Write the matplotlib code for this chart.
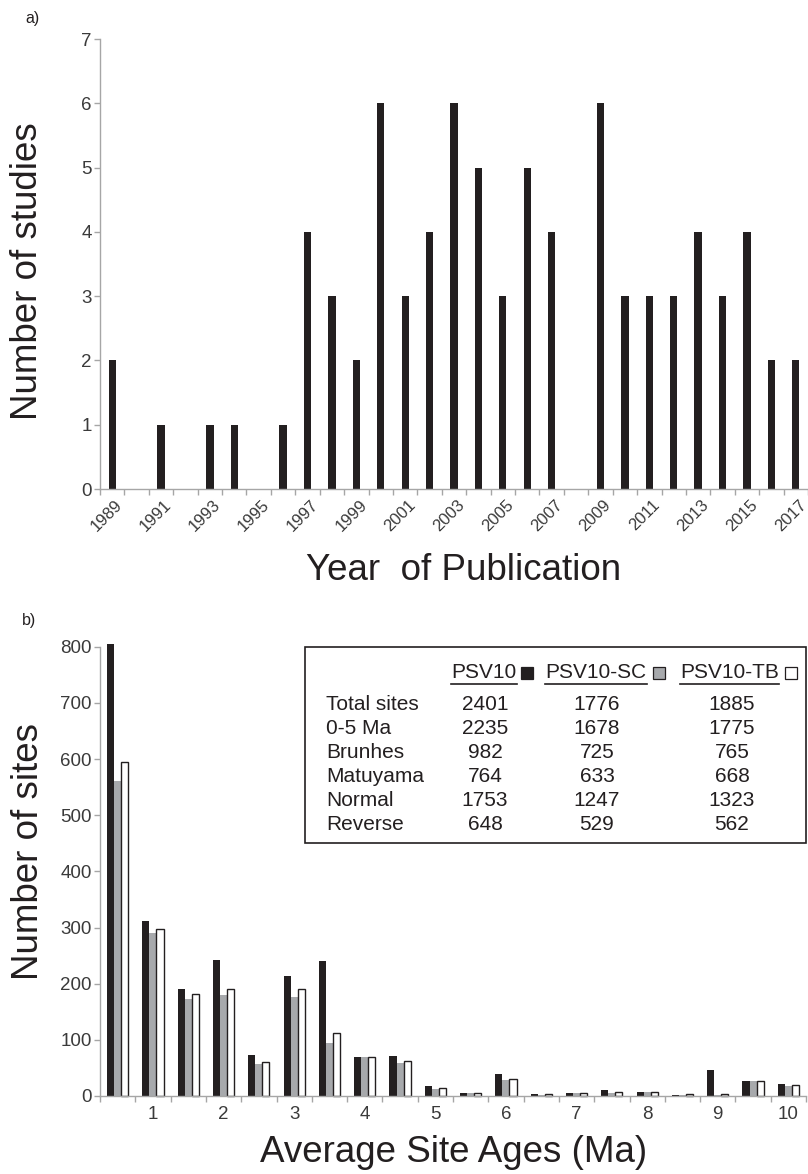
import matplotlib
matplotlib.use('Agg')
import matplotlib.pyplot as plt
import matplotlib.transforms as mtransforms
from matplotlib.patches import Rectangle
from matplotlib.lines import Line2D
import numpy as np

plt.rcParams['font.family'] = ['Liberation Sans', 'DejaVu Sans']

# Panel a: studies per year
years = list(range(1989, 2018))
studies = [2, 0, 1, 0, 1, 1, 0, 1, 4, 3, 2, 6, 3, 4, 6, 5, 3, 5, 4, 0,
           6, 3, 3, 3, 4, 3, 4, 2, 2]

# Panel b: sites per 0.5 Ma age bin
age_labels = ['1', '2', '3', '4', '5', '6', '7', '8', '9', '10']
psv10 = [805, 311, 190, 242, 73, 213, 240, 69, 72, 18,
         6, 40, 3, 6, 11, 7, 2, 46, 27, 21]
psv10_sc = [561, 291, 172, 179, 57, 176, 94, 70, 59, 13,
            5, 29, 2, 5, 6, 7, 1, 1, 27, 17]
psv10_tb = [595, 298, 182, 190, 60, 190, 112, 70, 62, 14,
            6, 31, 3, 6, 7, 8, 3, 4, 27, 20]

# Summary table
series_names = ['PSV10', 'PSV10-SC', 'PSV10-TB']
row_labels = ['Total sites', '0-5 Ma', 'Brunhes', 'Matuyama', 'Normal', 'Reverse']
tab_psv10 = [2401, 2235, 982, 764, 1753, 648]
tab_sc = [1776, 1678, 725, 633, 1247, 529]
tab_tb = [1885, 1775, 765, 668, 1323, 562]

INK = '#231f20'
GREY = '#a7a9ac'
AXC = '#a6a6a6'
TICKC = '#3a3a3a'

W, H = 808, 1174
fig = plt.figure(figsize=(W / 100, H / 100), dpi=100)


def fx(x):
    return x / W


def fy(y):
    return 1 - y / H


def style_axes(ax):
    for s in ('top', 'right'):
        ax.spines[s].set_visible(False)
    for s in ('left', 'bottom'):
        ax.spines[s].set_color(AXC)
        ax.spines[s].set_linewidth(1.0)
    ax.tick_params(axis='y', which='major', length=4, width=1.0, color=AXC,
                   labelcolor=TICKC, pad=2)
    ax.tick_params(axis='x', which='major', length=0, labelcolor=TICKC)
    ax.tick_params(axis='x', which='minor', length=4, width=1.0, color=AXC)


# ---- a) ----
axa = fig.add_axes([fx(100), fy(489), fx(708), (489 - 39) / H])
xa = np.arange(len(years))
axa.bar(xa, studies, width=0.3, color=INK, edgecolor='none')
axa.set_xlim(-0.5, len(years) - 0.5)
axa.set_ylim(0, 7)
axa.set_yticks(range(0, 8))
axa.set_xticks(xa[::2])
axa.set_xticklabels([str(y) for y in years[::2]], rotation=45, ha='center')
axa.set_xticks(np.arange(-0.5, len(years), 1), minor=True)
style_axes(axa)
axa.tick_params(axis='y', labelsize=13.5)
axa.tick_params(axis='x', which='major', labelsize=12, pad=6)
shift = mtransforms.ScaledTranslation(-5 / 100, 0, fig.dpi_scale_trans)
for lab in axa.get_xticklabels():
    lab.set_transform(lab.get_transform() + shift)

fig.text(fx(25), fy(19), 'a)', fontsize=11.5, color=INK, ha='left', va='center')
fig.text(fx(28), fy(271), 'Number of studies', fontsize=26.5, color=INK,
         rotation=90, ha='center', va='center')
fig.text(fx(464), fy(571), 'Year  of Publication', fontsize=26.5, color=INK,
         ha='center', va='center')

# ---- b) ----
axb = fig.add_axes([fx(100), fy(1096), fx(706), (1096 - 646.7) / H])
xb = np.arange(len(psv10))
bw = 0.2
axb.bar(xb - bw, psv10, width=bw, color=INK, edgecolor='none', clip_on=False)
axb.bar(xb, psv10_sc, width=bw, color=GREY, edgecolor='none', clip_on=False)
axb.bar(xb + bw, psv10_tb, width=bw, color='white', edgecolor=INK,
        linewidth=1.0, clip_on=False)
axb.set_xlim(-0.5, len(psv10) - 0.5)
axb.set_ylim(0, 800)
axb.set_yticks(range(0, 801, 100))
axb.set_xticks(xb[1::2])
axb.set_xticklabels(age_labels)
axb.set_xticks(np.arange(-0.5, len(psv10), 1), minor=True)
style_axes(axb)
axb.tick_params(axis='y', labelsize=13.5)
axb.tick_params(axis='x', which='major', labelsize=13.5, pad=7)

fig.text(fx(22), fy(620), 'b)', fontsize=11.5, color=INK, ha='left', va='center')
fig.text(fx(28), fy(852), 'Number of sites', fontsize=26.5, color=INK,
         rotation=90, ha='center', va='center')
fig.text(fx(454), fy(1153), 'Average Site Ages (Ma)', fontsize=26.5, color=INK,
         ha='center', va='center')

# summary table box
fig.patches.append(Rectangle((fx(305), fy(843)), fx(806 - 305), (843 - 647) / H,
                             transform=fig.transFigure, fill=False,
                             edgecolor=INK, linewidth=1.2))

col_x = [485, 597, 732]
head_x = [484, 596, 729.5]
sq_x = [521, 653, 785]
sq_face = [INK, GREY, 'white']
row_y = [704 + 24.2 * i for i in range(len(row_labels))]
tsize = 15

heads = []
for name, hx in zip(series_names, head_x):
    heads.append(fig.text(fx(hx), fy(673), name, fontsize=tsize, color=INK,
                          ha='center', va='center'))
for sx, fc in zip(sq_x, sq_face):
    fig.patches.append(Rectangle((fx(sx), fy(679)), fx(12), 12 / H,
                                 transform=fig.transFigure, facecolor=fc,
                                 edgecolor=INK, linewidth=0.9))

for i, lab in enumerate(row_labels):
    fig.text(fx(326), fy(row_y[i]), lab, fontsize=tsize, color=INK,
             ha='left', va='center')
    for col, vals in zip(col_x, (tab_psv10, tab_sc, tab_tb)):
        fig.text(fx(col), fy(row_y[i]), str(vals[i]), fontsize=tsize,
                 color=INK, ha='center', va='center')

# underline the series headers
fig.canvas.draw()
rend = fig.canvas.get_renderer()
for t in heads:
    bb = t.get_window_extent(renderer=rend)
    fig.lines.append(Line2D([bb.x0 / W, bb.x1 / W], [fy(684), fy(684)],
                            transform=fig.transFigure, color=INK, linewidth=1.2))

fig.savefig('out.png', dpi=100)
